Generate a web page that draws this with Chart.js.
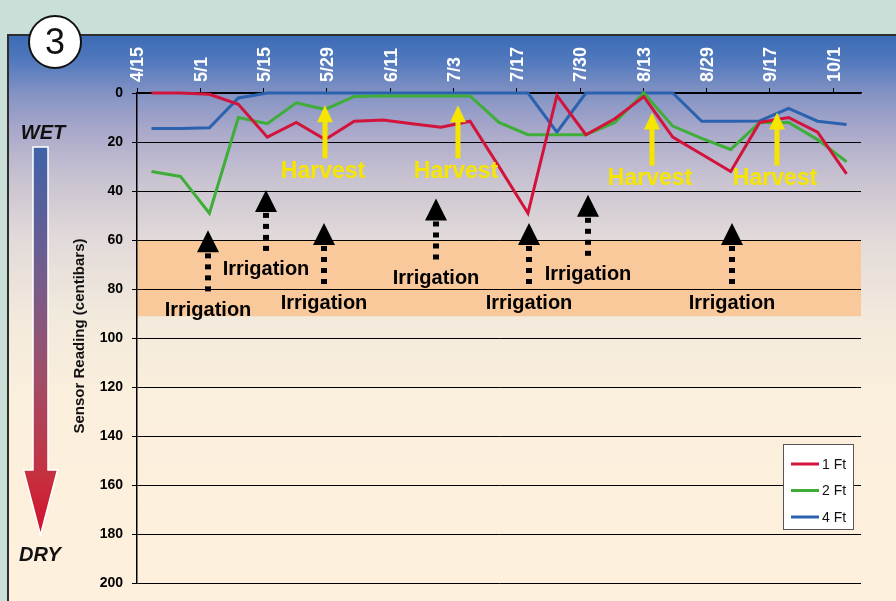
<!DOCTYPE html>
<html>
<head>
<meta charset="utf-8">
<style>
  html, body { margin: 0; padding: 0; background: #cbdfd9; }
  canvas { display: block; }
</style>
<script src="https://cdn.jsdelivr.net/npm/chart.js@4.4.1/dist/chart.umd.min.js"></script>
</head>
<body>
<canvas id="chart" width="896" height="601"></canvas>
<script>
// Sensor readings (centibars), one value per visit
const readings = ['1', '2', '3', '4', '5', '6', '7', '8', '9', '10', '11', '12', '13',
    '14', '15', '16', '17', '18', '19', '20', '21', '22', '23', '24', '25'];
const depth1ft = [0, 0, 0.5, 4.6, 18, 12, 19, 11.5, 11, 12.5, 14, 11.5, 30, 49, 1, 17, 10.5, 1.5, 18, 25, 32, 12, 10, 16, 33];
const depth2ft = [32, 34, 49, 10, 12.5, 4, 6.7, 1.4, 1.2, 1.2, 1.2, 1.2, 12, 17, 17, 17, 12, 0, 13.5, 18.5, 23, 12, 12, 19, 28];
const depth4ft = [14.5, 14.5, 14.2, 2, 0, 0, 0, 0, 0, 0, 0, 0, 0, 0, 16, 0, 0, 0, 0, 11.5, 11.5, 11.4, 6.3, 11.5, 12.8];

// date labels along the top
const dateTicks = ['4/15', '5/1', '5/15', '5/29', '6/11', '7/3', '7/17', '7/30', '8/13', '8/29', '9/17', '10/1'];
const dateAxisMax = 11.44;

// events (position in readings, reading at arrow tip)
const irrigationAt = [1.95, 3.96, 5.96, 9.84, 13.05, 15.09, 20.04];
const irrigationTip = [56, 39.5, 53, 43, 53, 41.5, 53];
const harvestAt = [6.0, 10.6, 17.27, 21.6];
const harvestTip = [5, 5, 8, 8];

// refill zone
const bandRange = [60, 91];

const FONT = "'Liberation Sans', Arial, sans-serif";

const decor = {
    id: 'decor',
    beforeDraw(chart) {
        const { ctx, chartArea: a } = chart;
        const y = chart.scales.y;
        const W = chart.width, H = chart.height;
        ctx.save();
        ctx.fillStyle = '#cbdfd9';
        ctx.fillRect(0, 0, W, H);

        // panel
        const g = ctx.createLinearGradient(0, 35, 0, H);
        g.addColorStop(0, '#3b6bb5');
        g.addColorStop(0.044, '#5078bd');
        g.addColorStop(0.106, '#8594c4');
        g.addColorStop(0.168, '#a9a8ca');
        g.addColorStop(0.256, '#c9c3d1');
        g.addColorStop(0.36, '#e2dad9');
        g.addColorStop(0.5, '#f2eadc');
        g.addColorStop(0.64, '#fbefdd');
        g.addColorStop(1, '#fef0dc');
        ctx.fillStyle = g;
        ctx.fillRect(8, 35, W - 8, H - 35);
        ctx.strokeStyle = '#2e2e2e';
        ctx.lineWidth = 2;
        ctx.beginPath();
        ctx.moveTo(8, H);
        ctx.lineTo(8, 35);
        ctx.lineTo(W, 35);
        ctx.stroke();

        // refill band
        const bt = y.getPixelForValue(bandRange[0]);
        const bb = y.getPixelForValue(bandRange[1]);
        ctx.fillStyle = '#f9c89b';
        ctx.fillRect(a.left, bt, a.right - a.left, bb - bt);

        // figure number
        ctx.beginPath();
        ctx.arc(55, 42, 26, 0, Math.PI * 2);
        ctx.fillStyle = '#fff';
        ctx.fill();
        ctx.lineWidth = 2;
        ctx.strokeStyle = '#111';
        ctx.stroke();
        ctx.fillStyle = '#111';
        ctx.font = `36px ${FONT}`;
        ctx.textAlign = 'center';
        ctx.textBaseline = 'middle';
        ctx.fillText('3', 55, 44);

        // wet / dry arrow
        const cx = 40.5;
        const ag = ctx.createLinearGradient(0, 147, 0, 535);
        ag.addColorStop(0, '#3f62a8');
        ag.addColorStop(0.35, '#775c8b');
        ag.addColorStop(0.6, '#a14d67');
        ag.addColorStop(0.85, '#c6303f');
        ag.addColorStop(1, '#d20f2c');
        ctx.beginPath();
        ctx.moveTo(cx - 7.5, 147);
        ctx.lineTo(cx + 7.5, 147);
        ctx.lineTo(cx + 7.5, 470);
        ctx.lineTo(cx + 17, 470);
        ctx.lineTo(cx, 535);
        ctx.lineTo(cx - 17, 470);
        ctx.lineTo(cx - 7.5, 470);
        ctx.closePath();
        ctx.fillStyle = ag;
        ctx.fill();
        ctx.strokeStyle = '#fff';
        ctx.lineWidth = 1.5;
        ctx.stroke();

        ctx.fillStyle = '#111';
        ctx.font = `italic bold 20px ${FONT}`;
        ctx.textBaseline = 'alphabetic';
        ctx.fillText('WET', 43, 139);
        ctx.fillText('DRY', 40, 561);

        // axis title
        ctx.translate(80, 336);
        ctx.rotate(-Math.PI / 2);
        ctx.font = `bold 15px ${FONT}`;
        ctx.textBaseline = 'middle';
        ctx.fillText('Sensor Reading (centibars)', 0, 0);
        ctx.restore();
    },
    afterDatasetsDraw(chart) {
        const { ctx } = chart;
        const x = chart.scales.x, y = chart.scales.y;
        ctx.save();
        ctx.textAlign = 'center';
        ctx.textBaseline = 'middle';

        // irrigation arrows
        irrigationAt.forEach((pos, i) => {
            const px = Math.round(x.getPixelForValue(pos));
            const tip = y.getPixelForValue(irrigationTip[i]);
            ctx.fillStyle = '#000';
            ctx.beginPath();
            ctx.moveTo(px, tip);
            ctx.lineTo(px + 11, tip + 22);
            ctx.lineTo(px - 11, tip + 22);
            ctx.closePath();
            ctx.fill();
            for (let k = 0; k < 4; k++) {
                ctx.fillRect(px - 3, tip + 23 + k * 11, 6, 5);
            }
            ctx.font = `bold 20px ${FONT}`;
            ctx.fillText('Irrigation', px, tip + 80);
        });

        // harvest arrows
        harvestAt.forEach((pos, i) => {
            const px = Math.round(x.getPixelForValue(pos));
            const tip = y.getPixelForValue(harvestTip[i]);
            ctx.fillStyle = '#f6e500';
            ctx.beginPath();
            ctx.moveTo(px, tip);
            ctx.lineTo(px + 8, tip + 17);
            ctx.lineTo(px - 8, tip + 17);
            ctx.closePath();
            ctx.fill();
            ctx.fillRect(px - 2.5, tip + 16, 5, 37);
            ctx.font = `bold 23px ${FONT}`;
            ctx.fillText('Harvest', px - 2, tip + 66);
        });

        // legend box
        const lx = 783, ly = 444;
        ctx.fillStyle = '#fff';
        ctx.fillRect(lx, ly, 70, 85);
        ctx.strokeStyle = '#555';
        ctx.lineWidth = 1;
        ctx.strokeRect(lx + 0.5, ly + 0.5, 70, 85);
        ctx.font = `14px ${FONT}`;
        ctx.textAlign = 'left';
        chart.data.datasets.forEach((ds, i) => {
            const cy = ly + 20 + i * 26.5;
            ctx.strokeStyle = ds.borderColor;
            ctx.lineWidth = 3;
            ctx.beginPath();
            ctx.moveTo(lx + 8, cy);
            ctx.lineTo(lx + 36, cy);
            ctx.stroke();
            ctx.fillStyle = '#111';
            ctx.fillText(ds.label, lx + 39, cy + 1);
        });
        ctx.restore();
    }
};

const lineStyle = { borderWidth: 3, pointRadius: 0, tension: 0, fill: false, clip: 4 };

new Chart(document.getElementById('chart'), {
    type: 'line',
    data: {
        labels: readings,
        datasets: [
            { label: '1 Ft', data: depth1ft, borderColor: '#d2143c', ...lineStyle },
            { label: '2 Ft', data: depth2ft, borderColor: '#3fae38', ...lineStyle },
            { label: '4 Ft', data: depth4ft, borderColor: '#2a62b0', ...lineStyle }
        ]
    },
    options: {
        responsive: false,
        animation: false,
        devicePixelRatio: 1,
        layout: { padding: { left: 0, right: 35, top: 0, bottom: 17 } },
        plugins: { legend: { display: false }, tooltip: { enabled: false } },
        scales: {
            x: {
                type: 'category',
                offset: true,
                display: false
            },
            xTop: {
                type: 'linear',
                position: 'top',
                min: 0,
                max: dateAxisMax,
                grid: { drawOnChartArea: false, color: '#000', tickLength: 5 },
                border: { color: '#000', width: 1.5 },
                ticks: {
                    stepSize: 1,
                    includeBounds: false,
                    autoSkip: false,
                    minRotation: 90,
                    maxRotation: 90,
                    padding: 6,
                    labelOffset: 23,
                    color: '#fff',
                    font: { family: FONT, size: 18, weight: 'bold' },
                    callback: v => dateTicks[v] ?? ''
                },
                afterFit(scale) { scale.height = 93; }
            },
            y: {
                reverse: true,
                min: 0,
                max: 200,
                grid: { color: '#000', lineWidth: 1, tickLength: 5 },
                border: { color: '#000', width: 1.5 },
                ticks: {
                    stepSize: 20,
                    padding: 9,
                    color: '#000',
                    font: { family: FONT, size: 14, weight: 'bold' }
                },
                afterFit(scale) { scale.width = 137; }
            }
        }
    },
    plugins: [decor]
});
</script>
</body>
</html>
